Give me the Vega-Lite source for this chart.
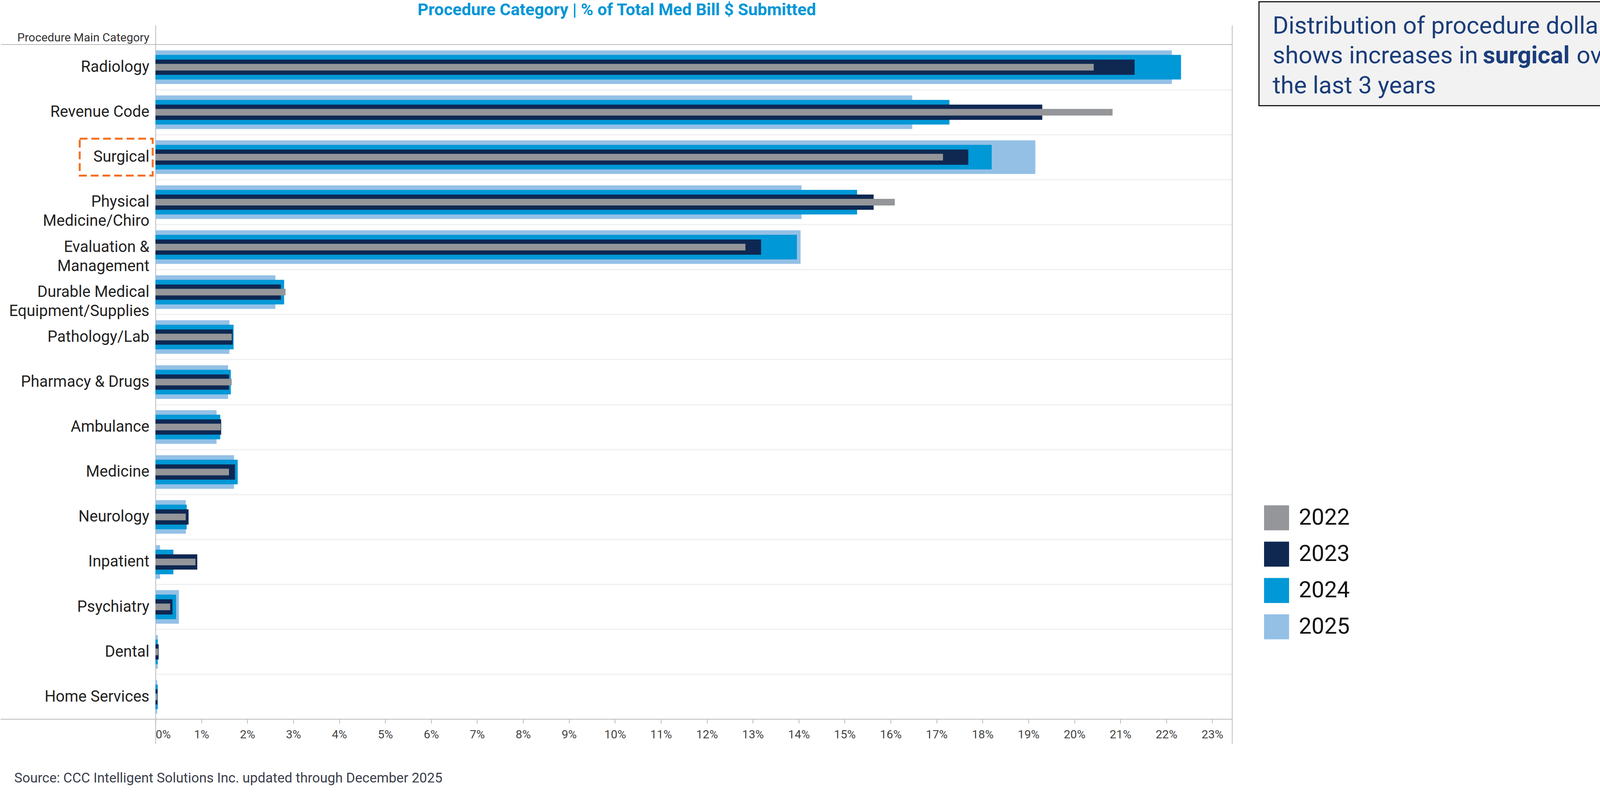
{
  "$schema": "https://vega.github.io/schema/vega-lite/v6.json",
  "padding": {"left": 0, "top": 2.5, "right": 2, "bottom": 131},
  "spacing": 66,
  "config": {"font": "Roboto", "view": {"stroke": null}},
  "hconcat": [
    {
      "width": 2756,
      "height": 1899,
      "title": {
        "text": "Procedure Category | % of Total Med Bill $ Submitted",
        "anchor": "middle",
        "frame": "group",
        "dx": -197,
        "offset": -77,
        "baseline": "alphabetic",
        "fontSize": 43,
        "fontWeight": "bold",
        "color": "#0096D6",
        "font": "Roboto"
      },
      "data": {
        "values": [
          {"cat": "Radiology", "year": "2025", "pct": 22.12},
          {"cat": "Radiology", "year": "2024", "pct": 22.32},
          {"cat": "Radiology", "year": "2023", "pct": 21.31},
          {"cat": "Radiology", "year": "2022", "pct": 20.42},
          {"cat": "Revenue Code", "year": "2025", "pct": 16.47},
          {"cat": "Revenue Code", "year": "2024", "pct": 17.28},
          {"cat": "Revenue Code", "year": "2023", "pct": 19.3},
          {"cat": "Revenue Code", "year": "2022", "pct": 20.83},
          {"cat": "Surgical", "year": "2025", "pct": 19.15},
          {"cat": "Surgical", "year": "2024", "pct": 18.2},
          {"cat": "Surgical", "year": "2023", "pct": 17.69},
          {"cat": "Surgical", "year": "2022", "pct": 17.14},
          {"cat": "Physical Medicine/Chiro", "year": "2025", "pct": 14.06},
          {"cat": "Physical Medicine/Chiro", "year": "2024", "pct": 15.27},
          {"cat": "Physical Medicine/Chiro", "year": "2023", "pct": 15.63},
          {"cat": "Physical Medicine/Chiro", "year": "2022", "pct": 16.09},
          {"cat": "Evaluation & Management", "year": "2025", "pct": 14.04},
          {"cat": "Evaluation & Management", "year": "2024", "pct": 13.96},
          {"cat": "Evaluation & Management", "year": "2023", "pct": 13.18},
          {"cat": "Evaluation & Management", "year": "2022", "pct": 12.84},
          {"cat": "Durable Medical Equipment/Supplies", "year": "2025", "pct": 2.61},
          {"cat": "Durable Medical Equipment/Supplies", "year": "2024", "pct": 2.8},
          {"cat": "Durable Medical Equipment/Supplies", "year": "2023", "pct": 2.73},
          {"cat": "Durable Medical Equipment/Supplies", "year": "2022", "pct": 2.83},
          {"cat": "Pathology/Lab", "year": "2025", "pct": 1.61},
          {"cat": "Pathology/Lab", "year": "2024", "pct": 1.7},
          {"cat": "Pathology/Lab", "year": "2023", "pct": 1.68},
          {"cat": "Pathology/Lab", "year": "2022", "pct": 1.66},
          {"cat": "Pharmacy & Drugs", "year": "2025", "pct": 1.58},
          {"cat": "Pharmacy & Drugs", "year": "2024", "pct": 1.64},
          {"cat": "Pharmacy & Drugs", "year": "2023", "pct": 1.6},
          {"cat": "Pharmacy & Drugs", "year": "2022", "pct": 1.66},
          {"cat": "Ambulance", "year": "2025", "pct": 1.33},
          {"cat": "Ambulance", "year": "2024", "pct": 1.41},
          {"cat": "Ambulance", "year": "2023", "pct": 1.43},
          {"cat": "Ambulance", "year": "2022", "pct": 1.42},
          {"cat": "Medicine", "year": "2025", "pct": 1.71},
          {"cat": "Medicine", "year": "2024", "pct": 1.79},
          {"cat": "Medicine", "year": "2023", "pct": 1.73},
          {"cat": "Medicine", "year": "2022", "pct": 1.6},
          {"cat": "Neurology", "year": "2025", "pct": 0.66},
          {"cat": "Neurology", "year": "2024", "pct": 0.68},
          {"cat": "Neurology", "year": "2023", "pct": 0.72},
          {"cat": "Neurology", "year": "2022", "pct": 0.66},
          {"cat": "Inpatient", "year": "2025", "pct": 0.1},
          {"cat": "Inpatient", "year": "2024", "pct": 0.39},
          {"cat": "Inpatient", "year": "2023", "pct": 0.91},
          {"cat": "Inpatient", "year": "2022", "pct": 0.87},
          {"cat": "Psychiatry", "year": "2025", "pct": 0.51},
          {"cat": "Psychiatry", "year": "2024", "pct": 0.45},
          {"cat": "Psychiatry", "year": "2023", "pct": 0.37},
          {"cat": "Psychiatry", "year": "2022", "pct": 0.32},
          {"cat": "Dental", "year": "2025", "pct": 0.05},
          {"cat": "Dental", "year": "2024", "pct": 0.05},
          {"cat": "Dental", "year": "2023", "pct": 0.07},
          {"cat": "Dental", "year": "2022", "pct": 0.06},
          {"cat": "Home Services", "year": "2025", "pct": 0.035},
          {"cat": "Home Services", "year": "2024", "pct": 0.05},
          {"cat": "Home Services", "year": "2023", "pct": 0.045},
          {"cat": "Home Services", "year": "2022", "pct": 0.04}
        ]
      },
      "resolve": {"axis": {"y": "independent"}},
      "layer": [
        {
          "encoding": {
            "y": {
              "field": "cat",
              "type": "nominal",
              "scale": {
                "domain": ["Radiology", "Revenue Code", "Surgical", "Physical Medicine/Chiro", "Evaluation & Management", "Durable Medical Equipment/Supplies", "Pathology/Lab", "Pharmacy & Drugs", "Ambulance", "Medicine", "Neurology", "Inpatient", "Psychiatry", "Dental", "Home Services"],
                "range": [60, 1899],
                "paddingInner": 0,
                "paddingOuter": 0.4866,
                "align": 0.446
              },
              "axis": {
                "orient": "left",
                "title": "Procedure Main Category",
                "titleAngle": 0,
                "titleAlign": "right",
                "titleBaseline": "alphabetic",
                "titleX": -16,
                "titleY": 101,
                "titleFontSize": 30,
                "titleFontWeight": "normal",
                "titleColor": "#333333",
                "bandPosition": 0,
                "ticks": true,
                "tickSize": 396,
                "tickWidth": 2,
                "tickColor": "#BBBBBB",
                "tickOpacity": {"condition": {"test": "datum.value === 'Radiology'", "value": 1}, "value": 0},
                "grid": true,
                "gridColor": {"condition": {"test": "datum.value === 'Radiology'", "value": "#BBBBBB"}, "value": "#EFEFEF"},
                "gridWidth": {"condition": {"test": "datum.value === 'Radiology'", "value": 2}, "value": 3},
                "domain": true,
                "domainColor": "#BBBBBB",
                "domainWidth": 2,
                "labelPadding": -380,
                "labelFontSize": 40,
                "labelColor": "#222222",
                "labelLimit": 1000,
                "labelLineHeight": 49,
                "labelExpr": "datum.value === 'Physical Medicine/Chiro' ? ['Physical', 'Medicine/Chiro'] : datum.value === 'Evaluation & Management' ? ['Evaluation &', 'Management'] : datum.value === 'Durable Medical Equipment/Supplies' ? ['Durable Medical', 'Equipment/Supplies'] : datum.label"
              }
            },
            "x": {
              "field": "pct",
              "type": "quantitative",
              "stack": null,
              "scale": {"domain": [0, 23.43], "nice": false, "zero": true},
              "axis": {
                "title": "Source: CCC Intelligent Solutions Inc. updated through December 2025",
                "titleX": -362,
                "titleY": 161,
                "titleAlign": "left",
                "titleBaseline": "alphabetic",
                "titleFontSize": 35,
                "titleFontWeight": "normal",
                "titleColor": "#3B3F4C",
                "values": [0, 1, 2, 3, 4, 5, 6, 7, 8, 9, 10, 11, 12, 13, 14, 15, 16, 17, 18, 19, 20, 21, 22, 23],
                "labelExpr": "datum.value + '%'",
                "offset": -62,
                "domain": false,
                "ticks": true,
                "tickSize": 10,
                "tickWidth": 2,
                "tickColor": "#BBBBBB",
                "grid": false,
                "labelFontSize": 30,
                "labelColor": "#444444",
                "labelPadding": 14,
                "labelFlush": true,
                "labelOverlap": false
              }
            },
            "color": {
              "field": "year",
              "type": "nominal",
              "scale": {"domain": ["2022", "2023", "2024", "2025"], "range": ["#959699", "#0E2852", "#0098D6", "#94C0E6"]},
              "legend": {
                "title": null,
                "orient": "none",
                "legendX": 2838,
                "legendY": 1289,
                "symbolType": "square",
                "symbolSize": 4096,
                "symbolStrokeWidth": 0,
                "labelFontSize": 58,
                "labelColor": "#111111",
                "labelOffset": 25,
                "rowPadding": 29,
                "padding": 0
              }
            }
          },
          "layer": [
            {"transform": [{"filter": "datum.year === '2025'"}], "mark": {"type": "bar", "height": {"band": 0.747}}},
            {"transform": [{"filter": "datum.year === '2024'"}], "mark": {"type": "bar", "height": {"band": 0.547}}},
            {"transform": [{"filter": "datum.year === '2023'"}], "mark": {"type": "bar", "height": {"band": 0.339}}},
            {"transform": [{"filter": "datum.year === '2022'"}], "mark": {"type": "bar", "height": {"band": 0.148}}}
          ]
        },
        {
          "data": {"values": [{"cat": "Surgical"}]},
          "mark": {"type": "rect", "fill": "transparent", "stroke": "#F37021", "strokeWidth": 5, "strokeDash": [20, 10], "height": {"band": 0.82}},
          "encoding": {
            "y": {
              "field": "cat",
              "type": "nominal",
              "axis": {
                "orient": "right",
                "title": null,
                "labels": false,
                "bandPosition": 1,
                "ticks": true,
                "tickSize": -3153,
                "tickWidth": 2,
                "tickColor": "#BBBBBB",
                "tickOpacity": {"condition": {"test": "datum.value === 'Home Services'", "value": 1}, "value": 0},
                "grid": false,
                "domain": true,
                "domainColor": "#BBBBBB",
                "domainWidth": 2
              }
            },
            "x": {"datum": -1.649, "type": "quantitative"},
            "x2": {"datum": -0.06}
          }
        }
      ]
    },
    {
      "width": 1036,
      "height": 266,
      "view": {"fill": "#F2F2F2", "stroke": "#1A1A1A", "strokeWidth": 3},
      "data": {
        "values": [
          {"line": "1", "part": "lead", "text": "Distribution of procedure dollars"},
          {"line": "2", "part": "lead", "text": "shows increases in"},
          {"line": "2", "part": "bold", "text": "surgical"},
          {"line": "2", "part": "tail", "text": "over"},
          {"line": "3", "part": "lead", "text": "the last 3 years"}
        ]
      },
      "encoding": {
        "y": {"field": "line", "type": "ordinal", "scale": {"domain": ["1", "2", "3"], "range": [81, 234], "padding": 0}, "axis": null},
        "text": {"field": "text"}
      },
      "layer": [
        {
          "transform": [{"filter": "datum.part === 'lead'"}],
          "mark": {"type": "text", "align": "left", "baseline": "alphabetic", "dx": -483, "fontSize": 62, "color": "#1B3D7A"}
        },
        {
          "transform": [{"filter": "datum.part === 'bold'"}],
          "mark": {"type": "text", "align": "left", "baseline": "alphabetic", "dx": 55, "fontSize": 62, "fontWeight": "bold", "color": "#1B3D7A"}
        },
        {
          "transform": [{"filter": "datum.part === 'tail'"}],
          "mark": {"type": "text", "align": "left", "baseline": "alphabetic", "dx": 295, "fontSize": 62, "color": "#1B3D7A"}
        }
      ]
    }
  ]
}
